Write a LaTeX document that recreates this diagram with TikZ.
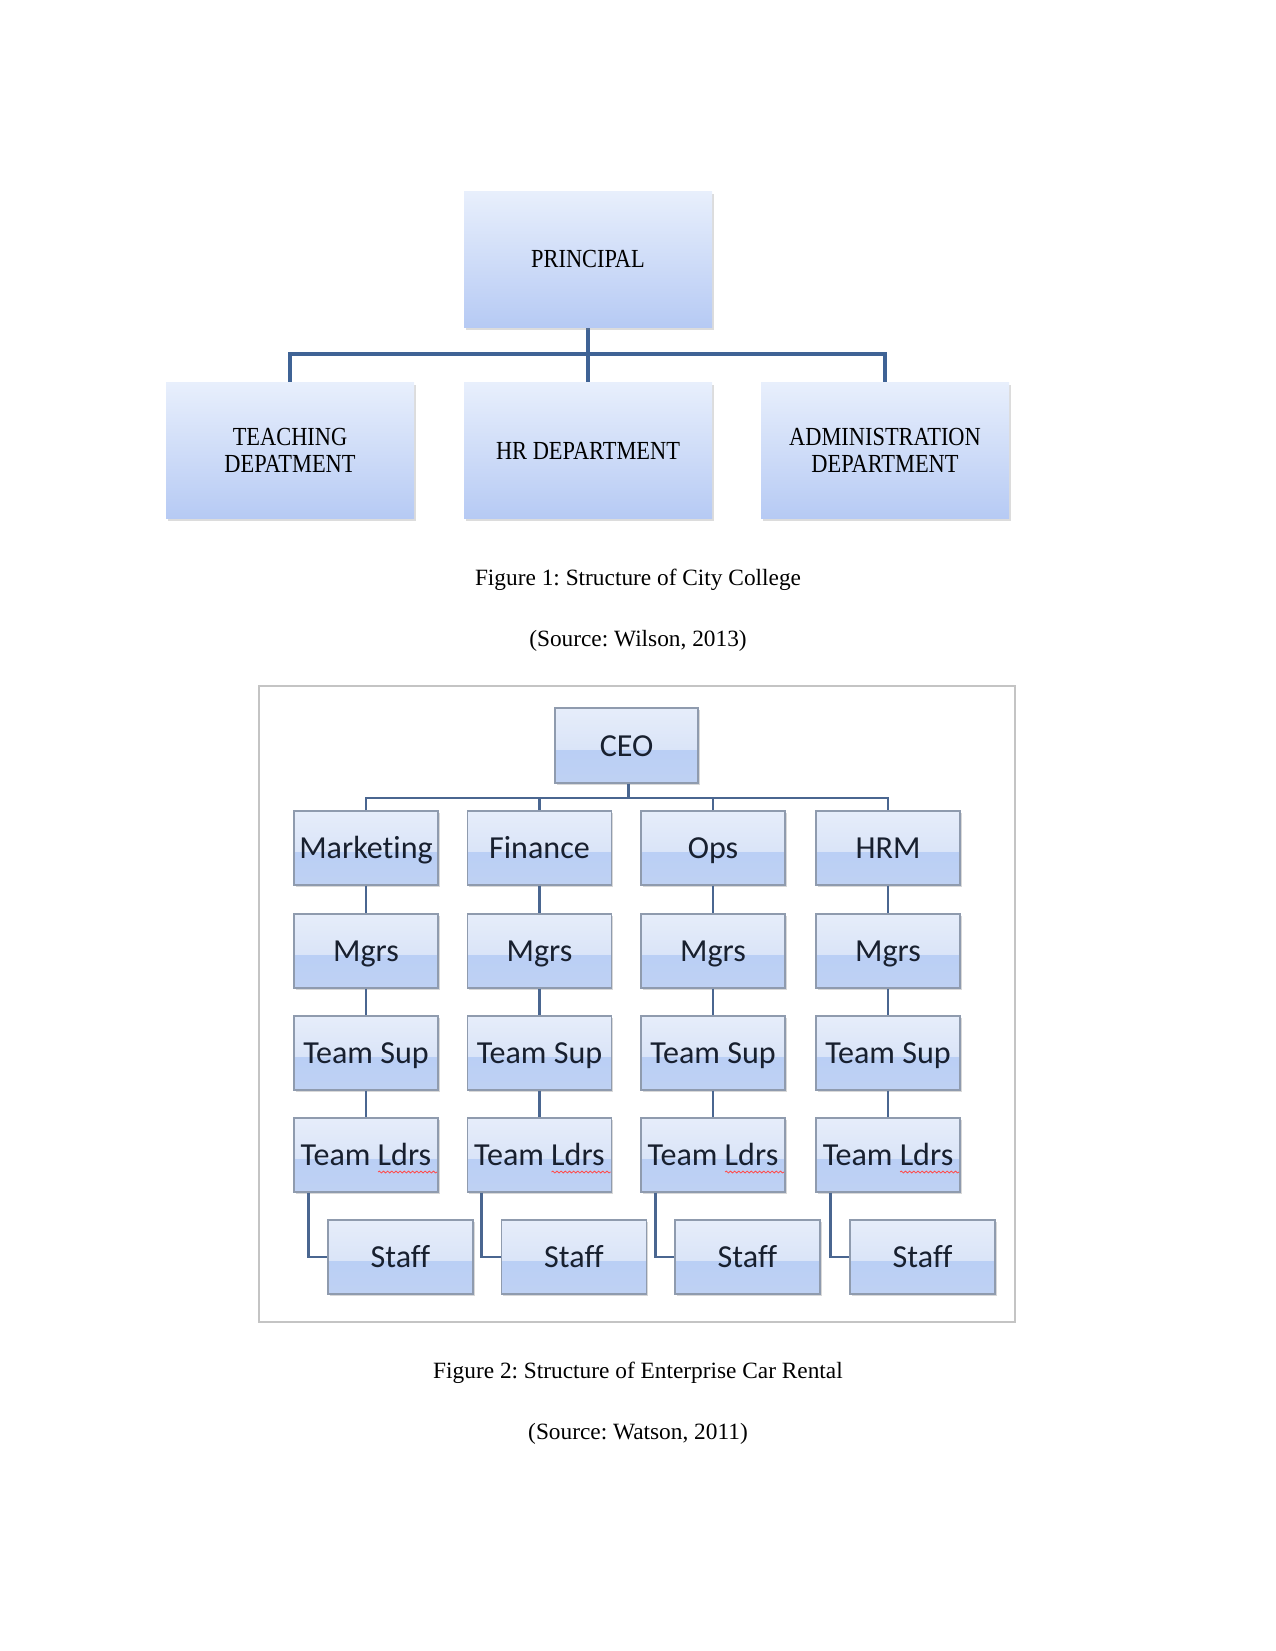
\documentclass[tikz,border=0pt]{standalone}
\usepackage{fontspec}
\setmainfont{Liberation Serif}
\newfontfamily\carlito[Ligatures=NoCommon]{Carlito}
\newfontfamily\narrowserif[FakeStretch=0.86]{Liberation Serif}
\usetikzlibrary{shadows,calc,decorations.pathmorphing}
\definecolor{bonetop}{HTML}{E8EFFC}
\definecolor{bonebot}{HTML}{B6CAF4}
\definecolor{lineone}{HTML}{3F6395}
\definecolor{linetwo}{HTML}{4A6690}
\definecolor{btwoa}{HTML}{E6EDFA}
\definecolor{btwob}{HTML}{D0DDF6}
\definecolor{btwoc}{HTML}{BACFF5}
\definecolor{btwod}{HTML}{BFD1F3}
\definecolor{btwoborder}{HTML}{8F9BAE}
\definecolor{btwotext}{HTML}{18202F}
\definecolor{framegray}{HTML}{C4C4C4}
\frenchspacing
\begin{document}
\begin{tikzpicture}[x=0.48pt,y=-0.48pt,
  boxone/.style={rectangle, minimum width={248*0.48pt}, minimum height={136*0.48pt},
    inner sep=2pt, top color=bonetop, bottom color=bonebot, draw=none,
    drop shadow={opacity=0.28, shadow xshift=0.9pt, shadow yshift=-1.3pt},
    font=\narrowserif\fontsize{12.5}{12.6}\selectfont, align=center, text=black},
  boxtwo/.style={rectangle, minimum width={144*0.48pt}, minimum height={74*0.48pt},
    inner sep=1pt, draw=btwoborder, line width=0.7pt, fill=btwoc,
    text height=10.4pt, text depth=0pt,
    drop shadow={opacity=0.3, shadow xshift=0.8pt, shadow yshift=-0.9pt},
    path picture={
      \fill[top color=btwoa, bottom color=btwob] (path picture bounding box.north west) rectangle
        ($(path picture bounding box.north east)!0.56!(path picture bounding box.south east)$);
      \fill[top color=btwoc, bottom color=btwod] ($(path picture bounding box.north west)!0.56!(path picture bounding box.south west)$)
        rectangle (path picture bounding box.south east);
    },
    font=\carlito\fontsize{15.4}{16}\selectfont, text=btwotext},
  connone/.style={draw=lineone, line width=1.8pt},
  conntwo/.style={draw=linetwo, line width=1.4pt},
  caption/.style={font=\fontsize{11.2}{13}\selectfont, inner sep=0pt},
  squig/.style={draw=red!70!white, line width=0.4pt, decorate,
    decoration={snake, amplitude=0.45pt, segment length=2pt}}
]
\useasboundingbox (0,0) rectangle (1275,1651);

% ---------------- Figure 1 ----------------
\coordinate (busone) at (588,354);
\draw[connone] (290,451) |- (busone) -| (885,451);
\draw[connone] (588,259) -- (588,451);
\node[boxone] (pr) at (588,259.5) {PRINCIPAL};
\node[boxone] (teach) at (290,450.5) {TEACHING\\DEPATMENT};
\node[boxone] (hr) at (588,450.5) {HR DEPARTMENT};
\node[boxone] (admin) at (885,450.5) {ADMINISTRATION\\DEPARTMENT};

\node[caption] (capone) at (638,580) {Figure 1: Structure of City College};
\node[caption] (srcone) at (638,641) {(Source: Wilson, 2013)};

% ---------------- Figure 2 ----------------
\draw[draw=framegray, line width=1.3pt, fill=white] (259,686) rectangle (1015,1322);

\node[boxtwo, minimum width={143*0.48pt}, minimum height={75*0.48pt}] (ceo) at (626.5,745.5) {CEO};

\foreach \c/\n/\t in {366/1/Marketing, 539.5/2/Finance, 713/3/Ops, 888/4/HRM}{
  \node[boxtwo] (dep\n) at (\c,848) {\t};
  \node[boxtwo] (mgr\n) at (\c,951) {Mgrs};
  \node[boxtwo] (sup\n) at (\c,1053) {Team Sup};
  \node[boxtwo] (ldr\n) at (\c,1155) {Team Ldrs};
  \node[boxtwo, minimum width={145*0.48pt}] (staff\n) at (\c+34.5,1257) {Staff};
}

\coordinate (bustwo) at (628.5,798);
\draw[conntwo] (ceo.south -| bustwo) -- (bustwo);
\draw[conntwo] (dep1.north) |- (bustwo) -| (dep4.north);
\draw[conntwo] (dep2.north) -- (dep2.north |- bustwo);
\draw[conntwo] (dep3.north) -- (dep3.north |- bustwo);

\foreach \n in {1,2,3,4}{
  \draw[conntwo] (dep\n.south) -- (mgr\n.north);
  \draw[conntwo] (mgr\n.south) -- (sup\n.north);
  \draw[conntwo] (sup\n.south) -- (ldr\n.north);
  \draw[conntwo] ([xshift={15*0.48pt}]ldr\n.south west) |- (staff\n.west);
  \draw[squig] ([xshift={12*0.48pt}, yshift={-17*0.48pt}]ldr\n.center) -- ++(59,0);
}

\node[caption] (captwo) at (638,1373) {Figure 2: Structure of Enterprise Car Rental};
\node[caption] (srctwo) at (638,1434) {(Source: Watson, 2011)};
\end{tikzpicture}
\end{document}
